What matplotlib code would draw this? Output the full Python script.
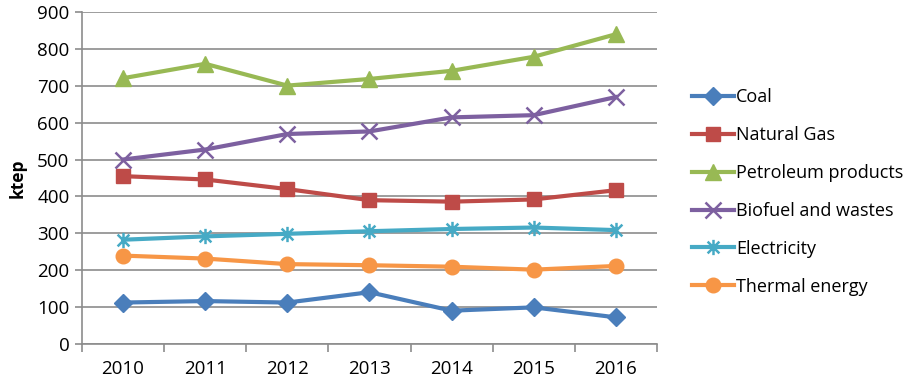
import numpy as np
import matplotlib.pyplot as plt
from matplotlib.path import Path

# datos (ktep)
years = ['2010', '2011', '2012', '2013', '2014', '2015', '2016']
coal = [113, 117, 113, 141, 91, 100, 73]
natural_gas = [455, 446, 420, 390, 386, 392, 417]
petroleum = [720, 759, 700, 718, 740, 778, 839]
biofuel = [500, 527, 569, 576, 614, 620, 669]
electricity = [283, 292, 299, 306, 312, 316, 309]
thermal = [240, 232, 217, 214, 210, 202, 212]

labels = ['Coal', 'Natural Gas', 'Petroleum products',
          'Biofuel and wastes', 'Electricity', 'Thermal energy']
colors = ['#4A7EBB', '#BE4B48', '#98B954', '#7D60A0', '#46AAC5', '#F79646']

# marcador estrella tipo Excel: x + linea vertical
star = Path([(-1, -1), (1, 1), (-1, 1), (1, -1), (0, -1.3), (0, 1.3)],
            [Path.MOVETO, Path.LINETO, Path.MOVETO, Path.LINETO,
             Path.MOVETO, Path.LINETO])
markers = ['D', 's', '^', 'x', star, 'o']
msizes = [9.5, 10.5, 11, 11, 11, 10.5]

plt.rcParams['font.family'] = ['Open Sans', 'DejaVu Sans']

fig = plt.figure(figsize=(9.04, 3.83), dpi=100)
ax = fig.add_axes([0.0907, 0.101, 0.636, 0.8685])

x = np.arange(len(years))
series = [coal, natural_gas, petroleum, biofuel, electricity, thermal]
for vals, lab, c, m, ms in zip(series, labels, colors, markers, msizes):
    mew = 1.8 if m in ('x',) or m is star else 1
    ax.plot(x, vals, color=c, linewidth=3, marker=m, markersize=ms,
            markeredgewidth=mew, markeredgecolor=c, markerfacecolor=c,
            label=lab)

ax.set_xlim(-0.5, 6.5)
ax.set_ylim(0, 900)
ax.set_yticks(np.arange(0, 901, 100))
ax.grid(axis='y', color='#8C8C8C', linewidth=1.2)
ax.set_axisbelow(True)

ax.set_xticks(x)
ax.set_xticklabels(years)
ax.set_xticks(np.arange(-0.5, 7, 1), minor=True)
ax.tick_params(axis='x', which='major', length=0, pad=11, labelsize=13.5)
ax.tick_params(axis='x', which='minor', length=6, width=1.2, color='#8C8C8C',
               direction='out')
ax.tick_params(axis='y', length=5, width=1.2, color='#8C8C8C',
               labelsize=13.5, pad=4)

for s in ['top', 'right']:
    ax.spines[s].set_visible(False)
for s in ['left', 'bottom']:
    ax.spines[s].set_color('#8C8C8C')
    ax.spines[s].set_linewidth(1.2)

ax.set_ylabel('ktep', fontsize=12.5, fontweight='bold', labelpad=8)

fig.legend(loc='upper left', bbox_to_anchor=(0.748, 0.812), frameon=False,
           fontsize=13, handlelength=2.3, handletextpad=0.1,
           labelspacing=1.1)

plt.savefig('out.png', dpi=100)
